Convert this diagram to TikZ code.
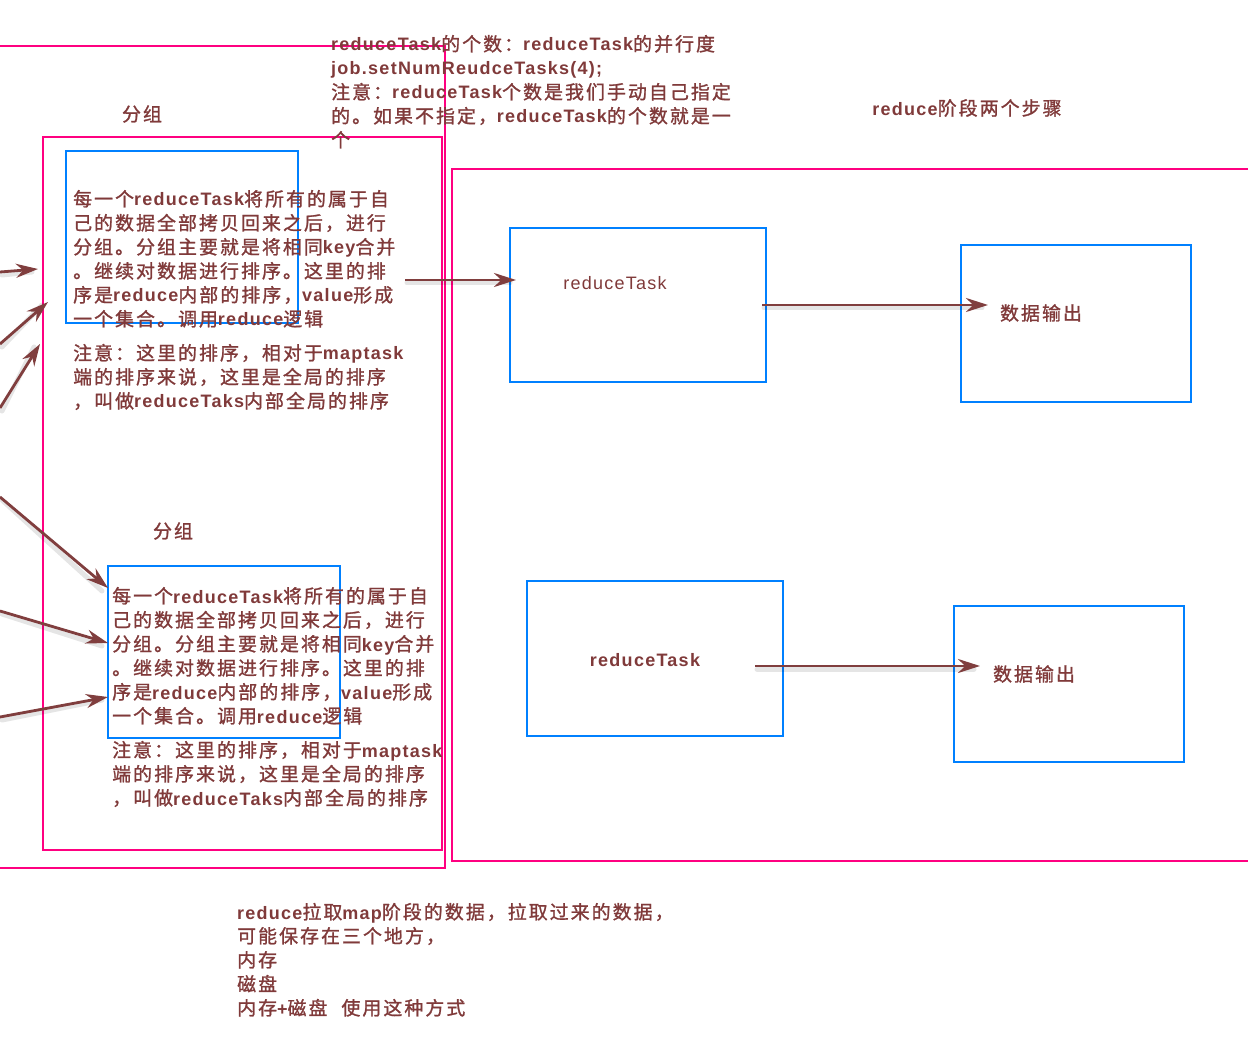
\documentclass[tikz,border=0pt]{standalone}
\usepackage{fontspec}
\setmainfont{Liberation Sans}[LetterSpace=7]
\newfontfamily\cjkfont{Noto Sans CJK SC}[Scale=1.05, LetterSpace=11, FakeBold=1.2]
\newfontfamily\cjkthin{Noto Sans CJK SC}[Scale=1.05, LetterSpace=11]
\usetikzlibrary{arrows.meta}
\XeTeXinterchartokenstate=1
\def\setcls#1#2{\count255=#1 \loop\XeTeXcharclass\count255=7 \advance\count255 by 1 \ifnum\count255<#2 \repeat}
\setcls{"3000}{"3040}
\setcls{"4E00}{"A000}
\setcls{"FF00}{"FFF0}
\XeTeXinterchartoks 0 7 = {\begingroup\cjkfont\mdseries}
\XeTeXinterchartoks 4095 7 = {\begingroup\cjkfont\mdseries}
\XeTeXinterchartoks 7 0 = {\endgroup}
\XeTeXinterchartoks 7 4095 = {\endgroup}
\definecolor{tc}{RGB}{128,58,58}
\definecolor{ac}{RGB}{128,62,62}
\definecolor{pk}{RGB}{255,0,128}
\definecolor{bl}{RGB}{0,128,255}
\tikzset{
  txt/.style={anchor=base west, inner sep=0pt, text=tc, font=\fontsize{18}{22}\selectfont\bfseries},
  lbl/.style={anchor=center, inner sep=0pt, text=tc, font=\fontsize{18}{22}\selectfont\bfseries},
  lblthin/.style={anchor=center, inner sep=0pt, text=tc, font=\fontsize{18}{22}\selectfont},
  pinkbox/.style={draw=pk, line width=2pt},
  bluebox/.style={draw=bl, line width=2pt, rectangle, inner sep=0pt},
  arr/.style={draw=ac, line width=2.8pt, -{Stealth[length=22pt,width=14pt]}},
  shd/.style={draw=black, opacity=0.10, line width=5pt, line cap=round},
}
\newcommand\sarrow[2]{%
  \draw[shd] ([shift={(2,3)}]#1) -- ([shift={(-6,3)}]#2);
  \draw[arr] (#1) -- (#2);}
\begin{document}
\begin{tikzpicture}[x=1pt,y=-1pt]
\useasboundingbox (0,0) rectangle (1248,1064);
\fill[white] (0,0) rectangle (1248,1064);
% pink frames
\draw[pinkbox] (-20,46) rectangle (445,868);
\draw[pinkbox] (43,137) rectangle (442,850);
\draw[pinkbox] (452,169) rectangle (1270,861);
% blue boxes
\node[bluebox, minimum width=232pt, minimum height=172pt] (g1) at (182,237) {};
\node[bluebox, minimum width=232pt, minimum height=172pt] (g2) at (224,652) {};
\node[bluebox, minimum width=256pt, minimum height=154pt] (r1) at (638,305) {};
\node[bluebox, minimum width=230pt, minimum height=157pt] (o1) at (1076,323.5) {};
\node[bluebox, minimum width=256pt, minimum height=155pt] (r2) at (655,658.5) {};
\node[bluebox, minimum width=230pt, minimum height=156pt] (o2) at (1069,684) {};
% top notes
\node[txt] (t1) at (331,51) {reduceTask的个数：reduceTask的并行度};
\node[txt] (t2) at (331,75) {job.setNumReudceTasks(4);};
\node[txt] (t3) at (331,99) {注意：reduceTask个数是我们手动自己指定};
\node[txt] (t4) at (331,123) {的。如果不指定，reduceTask的个数就是一};
\node[txt] (t5) at (331,147) {个};
\node[lbl] (s1) at (142,114) {分组};
\node[lbl] (s2) at (173,531) {分组};
\node[lbl] (st) at (967,108) {reduce阶段两个步骤};
% block 1
\node[txt] (a1) at (73,206) {每一个reduceTask将所有的属于自};
\node[txt] (a2) at (73,230) {己的数据全部拷贝回来之后，进行};
\node[txt] (a3) at (73,254) {分组。分组主要就是将相同key合并};
\node[txt] (a4) at (73,278) {。继续对数据进行排序。这里的排};
\node[txt] (a5) at (73,302) {序是reduce内部的排序，value形成};
\node[txt] (a6) at (73,326) {一个集合。调用reduce逻辑};
\node[txt] (a7) at (73,360) {注意：这里的排序，相对于maptask};
\node[txt] (a8) at (73,384) {端的排序来说，这里是全局的排序};
\node[txt] (a9) at (73,408) {，叫做reduceTaks内部全局的排序};
% block 2
\node[txt] (c1) at (112,603) {每一个reduceTask将所有的属于自};
\node[txt] (c2) at (112,627) {己的数据全部拷贝回来之后，进行};
\node[txt] (c3) at (112,651) {分组。分组主要就是将相同key合并};
\node[txt] (c4) at (112,675) {。继续对数据进行排序。这里的排};
\node[txt] (c5) at (112,699) {序是reduce内部的排序，value形成};
\node[txt] (c6) at (112,723) {一个集合。调用reduce逻辑};
\node[txt] (c7) at (112,757) {注意：这里的排序，相对于maptask};
\node[txt] (c8) at (112,781) {端的排序来说，这里是全局的排序};
\node[txt] (c9) at (112,805) {，叫做reduceTaks内部全局的排序};
% bottom
\node[txt] (d1) at (237,919) {reduce拉取map阶段的数据，拉取过来的数据，};
\node[txt] (d2) at (237,943) {可能保存在三个地方，};
\node[txt] (d3) at (237,967) {内存};
\node[txt] (d4) at (237,991) {磁盘};
\node[txt] (d5) at (237,1015) {内存+磁盘\hspace{14pt}使用这种方式};
% box labels
\node[lblthin] (rl1) at (615,283) {reduceTask};
\node[lblthin] (ol1) at (1041,313) {\cjkthin 数据输出};
\node[lbl] (rl2) at (645,660) {reduceTask};
\node[lblthin] (ol2) at (1034,674) {\cjkthin 数据输出};
% arrow ends
\coordinate (p1s) at (0,272);   \coordinate (p1e) at (38,269);
\coordinate (p2s) at (0,344);   \coordinate (p2e) at (48,302);
\coordinate (p3s) at (0,408);   \coordinate (p3e) at (40,344);
\coordinate (q1s) at (0,497);   \coordinate (q1e) at (108,588);
\coordinate (q2s) at (0,611);   \coordinate (q2e) at (108,643);
\coordinate (q3s) at (0,717);   \coordinate (q3e) at (108,697);
\coordinate (m1s) at (405,280); \coordinate (m1e) at (516,280);
\coordinate (m2s) at (762,305); \coordinate (m2e) at (988,305);
\coordinate (m3s) at (755,666); \coordinate (m3e) at (980,666);
\sarrow{p1s}{p1e}
\sarrow{p2s}{p2e}
\sarrow{p3s}{p3e}
\sarrow{q1s}{q1e}
\sarrow{q2s}{q2e}
\sarrow{q3s}{q3e}
\sarrow{m1s}{m1e}
\sarrow{m2s}{m2e}
\sarrow{m3s}{m3e}
\end{tikzpicture}
\end{document}
